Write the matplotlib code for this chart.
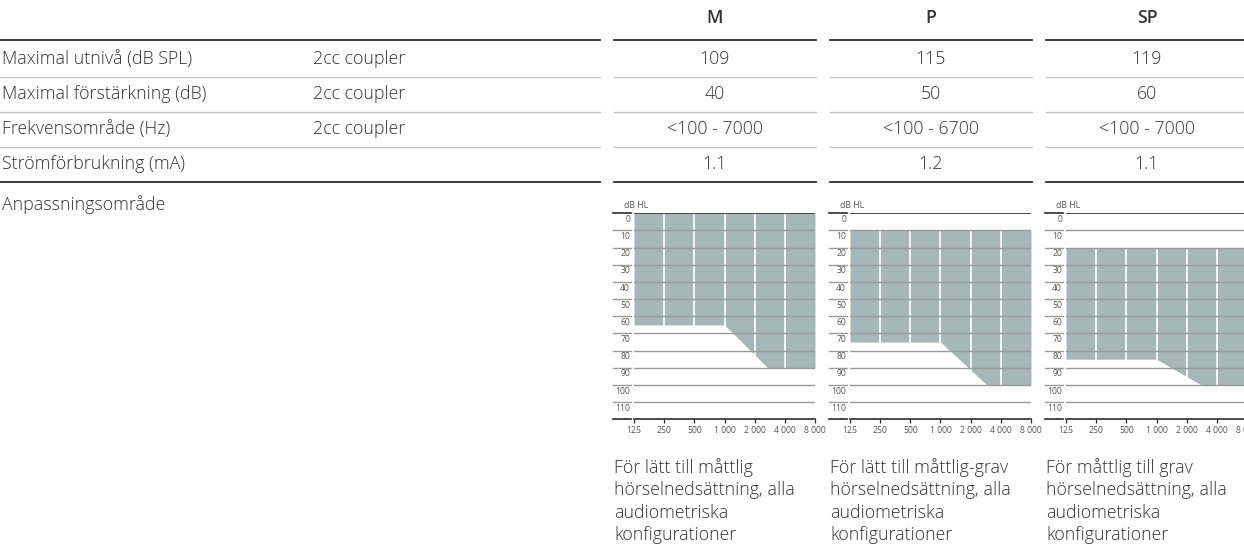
import matplotlib
matplotlib.use("Agg")
import matplotlib.pyplot as plt
import numpy as np

plt.rcParams['font.family'] = ['Open Sans', 'DejaVu Sans']

W, H = 1244, 558

# --- data ---
models = ["M", "P", "SP"]
row_labels = ["Maximal utnivå (dB SPL)", "Maximal förstärkning (dB)",
              "Frekvensområde (Hz)", "Strömförbrukning (mA)"]
row_notes = ["2cc coupler", "2cc coupler", "2cc coupler", ""]
values = [
    ["109", "115", "119"],
    ["40", "50", "60"],
    ["<100 - 7000", "<100 - 6700", "<100 - 7000"],
    ["1.1", "1.2", "1.1"],
]
fit_label = "Anpassningsområde"

freq_ticks = [125, 250, 500, 1000, 2000, 4000, 8000]
freq_labels = ["125", "250", "500", "1 000", "2 000", "4 000", "8 000"]
db_levels = list(range(0, 120, 10))

# fitting range per model: upper limit (dB HL) and lower boundary points
fit_top = [0, 10, 20]
fit_freqs = [
    [125, 1000, 2700, 8000],
    [125, 1000, 2900, 8000],
    [125, 1000, 2800, 8000],
]
fit_bottom = [
    [65, 65, 90, 90],
    [75, 75, 100, 100],
    [85, 85, 100, 100],
]
descriptions = [
    "För lätt till måttlig\nhörselnedsättning, alla\naudiometriska\nkonfigurationer",
    "För lätt till måttlig-grav\nhörselnedsättning, alla\naudiometriska\nkonfigurationer",
    "För måttlig till grav\nhörselnedsättning, alla\naudiometriska\nkonfigurationer",
]

# --- style ---
txt = "#333333"
dark = "#2b2b2b"
light = "#c4c4c4"
fill_col = "#a6b7b8"
grid_col = "#9a9a9a"
fs = 12.8
fw = "light"
small = 6.2

col_left = [614, 830, 1046]
col_w = 202
row_y = [59, 94, 129, 164]
row_lines = [77, 112, 147]
left_x0 = 2

fig = plt.figure(figsize=(W / 100, H / 100), dpi=100)
bg = fig.add_axes([0, 0, 1, 1])
bg.set_xlim(0, W)
bg.set_ylim(H, 0)
bg.axis("off")

# left part of the table
bg.plot([0, 600], [40, 40], color=dark, lw=1.3)
bg.plot([0, 600], [182, 182], color=dark, lw=1.3)
for y in row_lines:
    bg.plot([0, 600], [y, y], color=light, lw=1.0)
for y, lab, note in zip(row_y, row_labels, row_notes):
    bg.text(left_x0, y, lab, fontsize=fs, color=txt, va="center", ha="left", fontweight=fw)
    bg.text(313, y, note, fontsize=fs, color=txt, va="center", ha="left", fontweight=fw)
bg.text(left_x0, 205, fit_label, fontsize=fs, color=txt, va="center", ha="left", fontweight=fw)

for i, m in enumerate(models):
    x0 = col_left[i]
    xc = x0 + col_w / 2
    bg.text(xc, 18, m, fontsize=fs, color=txt, va="center", ha="center", fontweight="semibold")
    bg.plot([x0, x0 + col_w], [40, 40], color=dark, lw=1.3)
    bg.plot([x0, x0 + col_w], [182, 182], color=dark, lw=1.3)
    for y in row_lines:
        bg.plot([x0, x0 + col_w], [y, y], color=light, lw=1.0)
    for r, y in enumerate(row_y):
        bg.text(xc, y, values[r][i], fontsize=fs, color=txt, va="center", ha="center",
                fontweight=fw)
    bg.text(x0, 458, descriptions[i], fontsize=fs, color=txt, va="top", ha="left",
            linespacing=1.32, fontweight=fw)
    bg.text(x0 + 10, 205, "dB HL", fontsize=small, color="#555555", va="center", ha="left")

# audiograms
top_px, bot_px = 213.3, 419.3
for i in range(3):
    x0 = col_left[i] + 20
    ax = fig.add_axes([x0 / W, 1 - bot_px / H, 181 / W, (bot_px - top_px) / H])
    ax.set_xscale("log", base=2)
    ax.set_xlim(125, 8000)
    ax.set_ylim(120, 0)
    ax.fill_between(fit_freqs[i], fit_top[i], fit_bottom[i], color=fill_col, lw=0, zorder=1)
    for f in freq_ticks[1:-1]:
        ax.axvline(f, color="white", lw=1.2, zorder=2)
    for v in db_levels:
        c = dark if v == 0 else grid_col
        lw = 1.2 if v == 0 else 1.0
        ax.axhline(v, color=c, lw=lw, zorder=3)
        ax.plot([-0.118, -0.017], [v, v], color=c, lw=lw,
                transform=ax.get_yaxis_transform(), clip_on=False)
        ax.text(-0.022, v + 3.6, str(v), transform=ax.get_yaxis_transform(),
                ha="right", va="center", fontsize=small, color="#555555")
    ax.plot([-0.118, -0.017], [120, 120], color=dark, lw=1.2,
            transform=ax.get_yaxis_transform(), clip_on=False)
    for s in ["top", "left", "right"]:
        ax.spines[s].set_visible(False)
    ax.spines["bottom"].set_color(dark)
    ax.spines["bottom"].set_linewidth(1.2)
    ax.set_yticks([])
    ax.set_xticks(freq_ticks)
    ax.set_xticklabels(freq_labels)
    ax.xaxis.set_minor_locator(matplotlib.ticker.NullLocator())
    ax.tick_params(axis="x", length=3, width=0.9, color=dark, labelsize=small,
                   labelcolor="#555555", pad=2)
    ax.patch.set_visible(False)

fig.savefig("out.png", dpi=100)
